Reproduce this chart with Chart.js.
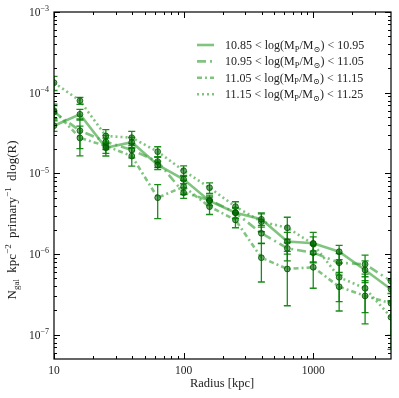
<!DOCTYPE html>
<html>
<head>
<meta charset="utf-8">
<script src="https://cdn.jsdelivr.net/npm/chart.js@4.4.1/dist/chart.umd.min.js"></script>
<style>
  html, body { margin: 0; padding: 0; background: #fff; }
</style>
</head>
<body>
<canvas id="profileChart" width="399" height="398"></canvas>
<script>
// radial bins (kpc)
const radius = [10, 15.85, 25.12, 39.81, 63.1, 100, 158.5, 251.2, 398.1, 631, 1000, 1585, 2512, 3981];

// surface density per mass bin
const bin1 = [3.90e-5, 5.40e-5, 2.08e-5, 2.43e-5, 1.27e-5, 8.45e-6, 4.55e-6, 3.26e-6, 2.70e-6, 1.43e-6, 1.36e-6, 1.07e-6, 6.35e-7, 3.66e-7];
const bin2 = [5.77e-5, 3.38e-5, 2.47e-5, 1.95e-5, 1.40e-5, 5.77e-6, 4.68e-6, 3.26e-6, 1.81e-6, 1.18e-6, 1.04e-6, 7.82e-7, 7.48e-7, 4.64e-7];
const bin3 = [6.00e-5, 2.75e-5, 2.19e-5, 1.64e-5, 5.00e-6, 6.84e-6, 3.87e-6, 2.65e-6, 9.02e-7, 6.54e-7, 6.86e-7, 3.94e-7, 3.03e-7, 2.46e-7];
const bin4 = [1.33e-4, 7.96e-5, 2.91e-5, 2.77e-5, 1.86e-5, 1.08e-5, 6.65e-6, 3.87e-6, 2.52e-6, 2.12e-6, 1.33e-6, 5.16e-7, 3.77e-7, 1.65e-7];

// relative (fractional) errors
const err1 = [0.15, 0.15, 0.15, 0.15, 0.12, 0.12, 0.12, 0.15, 0.20, 0.30, 0.20, 0.20, 0.30, 0.30];
const err2 = [0.20, 0.40, 0.20, 0.20, 0.15, 0.15, 0.15, 0.15, 0.25, 0.30, 0.25, 0.30, 0.30, 0.30];
const err3 = [0.20, 0.40, 0.25, 0.25, 0.45, 0.20, 0.20, 0.20, 0.50, 0.65, 0.45, 0.50, 0.55, 0.60];
const err4 = [0.20, 0.10, 0.20, 0.20, 0.15, 0.15, 0.15, 0.15, 0.25, 0.35, 0.40, 0.50, 0.50, 0.60];

const binLow = ['10.85', '10.95', '11.05', '11.15'];
const binHigh = ['10.95', '11.05', '11.15', '11.25'];

const xTicks = [10, 100, 1000];
const yTicks = [-7, -6, -5, -4, -3];

const series = [bin1, bin2, bin3, bin4];
const errors = [err1, err2, err3, err4];
const dashes = [[], [9, 4, 2, 4], [5, 3, 2, 3], [2, 3]];

const FONT = "'Liberation Serif', 'DejaVu Serif', serif";
const lineColor = 'rgba(60, 165, 60, 0.65)';
const errColor = 'rgba(0, 128, 0, 0.9)';

function toPoints(vals) {
    return vals.map((v, i) => ({ x: radius[i], y: v }));
}

// text with sub / superscripts
function richWidth(ctx, parts, size) {
    let w = 0;
    parts.forEach(p => {
        const s = p.s ? size * 0.7 : size;
        ctx.font = s + 'px ' + FONT;
        w += ctx.measureText(p.t).width + (p.gap || 0);
    });
    return w;
}

function drawRich(ctx, parts, x, y, size, align) {
    const w = richWidth(ctx, parts, size);
    let cx = align === 'right' ? x - w : align === 'center' ? x - w / 2 : x;
    ctx.textAlign = 'left';
    ctx.textBaseline = 'alphabetic';
    parts.forEach(p => {
        const s = p.s ? size * 0.7 : size;
        ctx.font = s + 'px ' + FONT;
        let dy = 0;
        if (p.s === 'sub') dy = size * 0.22;
        if (p.s === 'sup') dy = -size * 0.42;
        ctx.fillText(p.t, cx, y + dy);
        cx += ctx.measureText(p.t).width + (p.gap || 0);
    });
}

const datasets = [];
series.forEach((vals, k) => {
    datasets.push({
        label: binLow[k] + ' < log(MP/M\u2299) < ' + binHigh[k],
        data: toPoints(vals),
        borderColor: lineColor,
        borderWidth: 2.6,
        borderDash: dashes[k],
        pointRadius: 0,
        tension: 0,
        fill: false,
        order: 2
    });
});
series.forEach((vals, k) => {
    datasets.push({
        label: 'points ' + k,
        data: toPoints(vals),
        errors: errors[k],
        showLine: false,
        pointRadius: 2.9,
        pointBackgroundColor: 'rgba(0, 105, 0, 0.55)',
        pointBorderColor: 'rgba(0, 80, 0, 0.8)',
        pointBorderWidth: 1,
        order: 0
    });
});

const errorBars = {
    id: 'errorBars',
    beforeDatasetDraw(chart, args) {
        const ds = chart.data.datasets[args.index];
        if (!ds.errors) return;
        const { ctx, chartArea, scales } = chart;
        ctx.save();
        ctx.beginPath();
        ctx.rect(chartArea.left, chartArea.top, chartArea.right - chartArea.left, chartArea.bottom - chartArea.top);
        ctx.clip();
        ctx.strokeStyle = errColor;
        ctx.lineWidth = 1.3;
        ds.data.forEach((p, i) => {
            const e = p.y * ds.errors[i];
            const px = scales.x.getPixelForValue(p.x);
            const top = scales.y.getPixelForValue(p.y + e);
            const bot = p.y - e > 0 ? scales.y.getPixelForValue(p.y - e) : chartArea.bottom;
            ctx.beginPath();
            ctx.moveTo(px, top);
            ctx.lineTo(px, bot);
            ctx.moveTo(px - 3.5, top);
            ctx.lineTo(px + 3.5, top);
            ctx.moveTo(px - 3.5, bot);
            ctx.lineTo(px + 3.5, bot);
            ctx.stroke();
        });
        ctx.restore();
    }
};

const axesDecor = {
    id: 'axesDecor',
    afterDraw(chart) {
        const { ctx, chartArea: a, scales } = chart;
        const xs = scales.x, ys = scales.y;
        ctx.save();
        ctx.strokeStyle = '#000';
        ctx.lineWidth = 1;

        // minor / major ticks, inward on all sides
        ctx.beginPath();
        for (let d = 1; d <= 3; d++) {
            for (let m = 1; m <= 9; m++) {
                const v = m * Math.pow(10, d);
                if (v < xs.min || v > xs.max) continue;
                const px = Math.round(xs.getPixelForValue(v)) + 0.5;
                const len = m === 1 ? 6 : 3;
                ctx.moveTo(px, a.bottom); ctx.lineTo(px, a.bottom - len);
                ctx.moveTo(px, a.top); ctx.lineTo(px, a.top + len);
            }
        }
        for (let d = -8; d <= -3; d++) {
            for (let m = 1; m <= 9; m++) {
                const v = m * Math.pow(10, d);
                if (v < ys.min * 0.999 || v > ys.max * 1.001) continue;
                const py = Math.round(ys.getPixelForValue(v)) + 0.5;
                const len = m === 1 ? 6 : 3;
                ctx.moveTo(a.left, py); ctx.lineTo(a.left + len, py);
                ctx.moveTo(a.right, py); ctx.lineTo(a.right - len, py);
            }
        }
        ctx.stroke();

        ctx.lineWidth = 1.2;
        ctx.strokeRect(a.left, a.top, a.right - a.left, a.bottom - a.top);

        // tick labels
        ctx.fillStyle = '#222';
        xTicks.forEach(t => {
            drawRich(ctx, [{ t: String(t) }], xs.getPixelForValue(t), a.bottom + 15, 11.5, 'center');
        });
        yTicks.forEach(e => {
            drawRich(ctx, [{ t: '10' }, { t: '\u2212' + Math.abs(e), s: 'sup' }], a.left - 5, ys.getPixelForValue(Math.pow(10, e)) + 4, 11.5, 'right');
        });

        // axis titles
        drawRich(ctx, [{ t: 'Radius [kpc]' }], 222, 387, 12.5, 'center');
        ctx.save();
        ctx.translate(16, 220);
        ctx.rotate(-Math.PI / 2);
        drawRich(ctx, [
            { t: 'N' }, { t: 'gal', s: 'sub', gap: 3 }, { t: ' kpc' }, { t: '\u22122', s: 'sup', gap: 3 },
            { t: ' primary' }, { t: '\u22121', s: 'sup', gap: 3 }, { t: ' dlog(R)' }
        ], 0, 0, 13, 'center');
        ctx.restore();

        // legend
        for (let k = 0; k < 4; k++) {
            const y = 45 + k * 16.4;
            ctx.strokeStyle = lineColor;
            ctx.lineWidth = 2.6;
            ctx.setLineDash(dashes[k]);
            ctx.beginPath();
            ctx.moveTo(197, y);
            ctx.lineTo(214, y);
            ctx.stroke();
            ctx.setLineDash([]);
            ctx.fillStyle = '#222';
            drawRich(ctx, [
                { t: binLow[k] + ' < log(M' }, { t: 'P', s: 'sub' }, { t: '/M' }, { t: '\u2299', s: 'sub' },
                { t: ') < ' + binHigh[k] }
            ], 225, y + 4, 12, 'left');
        }
        ctx.restore();
    }
};

const ctx = document.getElementById('profileChart').getContext('2d');
new Chart(ctx, {
    type: 'line',
    data: { datasets: datasets },
    options: {
        responsive: false,
        animation: false,
        devicePixelRatio: 1,
        layout: { padding: { left: 54, right: 8, top: 12, bottom: 39 } },
        scales: {
            x: { type: 'logarithmic', min: 10, max: 3981, display: false },
            y: { type: 'logarithmic', min: 5.01e-8, max: 1e-3, display: false }
        },
        plugins: {
            legend: { display: false },
            tooltip: { enabled: false }
        }
    },
    plugins: [errorBars, axesDecor]
});
</script>
</body>
</html>
